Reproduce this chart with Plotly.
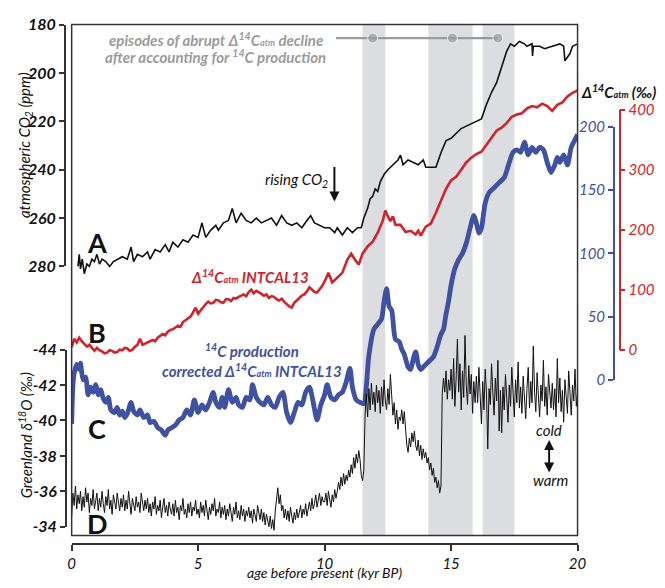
import plotly.graph_objects as go

# ---------------- data ----------------
co2_age = [0.25, 0.3, 0.35, 0.42, 0.5, 0.6, 0.7, 0.8, 0.9, 1.0, 1.1, 1.2, 1.35, 1.5, 1.65, 1.8, 2.0, 2.2, 2.35, 2.45,
           2.6, 2.8, 3.0, 3.1, 3.3, 3.5, 3.7, 3.85, 4.0, 4.2, 4.4, 4.6, 4.8, 5.0, 5.15, 5.3, 5.5, 5.7, 5.8, 6.0,
           6.2, 6.35, 6.5, 6.7, 6.9, 7.1, 7.3, 7.5, 7.7, 7.9, 8.1, 8.3, 8.5, 8.7, 8.9, 9.1, 9.3, 9.45, 9.6, 9.8,
           10.0, 10.2, 10.4, 10.5, 10.7, 10.9, 11.1, 11.3, 11.45, 11.55, 11.7, 11.8, 11.9, 12.0, 12.1, 12.2, 12.35, 12.5, 12.7, 12.9,
           13.0, 13.1, 13.3, 13.5, 13.7, 13.9, 14.0, 14.2, 14.4, 14.6, 14.8, 15.0, 15.2, 15.4, 15.6, 15.8, 16.0, 16.2, 16.4, 16.6,
           16.8, 17.0, 17.2, 17.35, 17.5, 17.7, 17.9, 18.0, 18.2, 18.22, 18.25, 18.5, 18.7, 19.0, 19.3, 19.45, 19.5, 19.7, 19.8, 20.0]
co2_ppm = [280, 275, 281, 277, 283, 279, 280, 277, 278, 275, 279, 277, 278, 280, 278, 277, 276, 277, 272, 278,
           275, 276, 274, 277, 273, 274, 271, 274, 270, 272, 269, 270, 267, 268, 262, 268, 265, 263, 265, 262,
           261, 256, 262, 258, 261, 262, 260, 262, 261, 260, 263, 259, 262, 263, 262, 264, 261, 259, 262, 263,
           264, 264, 266, 264, 267, 264, 266, 264, 264, 260, 256, 252, 251, 248, 249, 245, 242, 240, 238, 236,
           234, 238, 236, 237, 238, 236, 239, 239, 239, 233, 228, 227, 225, 223, 222, 221, 220, 219, 213, 208,
           204, 197, 191, 188, 189, 187, 188, 189, 188, 193, 189, 189, 190, 189, 188, 189, 195, 192, 189, 188]

d14c_age = [0.0, 0.1, 0.2, 0.3, 0.4, 0.5, 0.6, 0.7, 0.8, 0.9, 1.0, 1.1, 1.2, 1.3, 1.4, 1.5, 1.6, 1.7, 1.8, 1.9,
            2.0, 2.1, 2.2, 2.3, 2.4, 2.5, 2.6, 2.7, 2.8, 2.9, 3.0, 3.1, 3.2, 3.3, 3.4, 3.5, 3.6, 3.7, 3.8, 3.9,
            4.0, 4.1, 4.2, 4.3, 4.4, 4.5, 4.6, 4.7, 4.8, 4.9, 5.0, 5.1, 5.2, 5.3, 5.4, 5.5, 5.6, 5.7, 5.8, 5.9,
            6.0, 6.1, 6.2, 6.3, 6.4, 6.5, 6.6, 6.7, 6.8, 6.9, 7.0, 7.1, 7.2, 7.3, 7.4, 7.5, 7.6, 7.7, 7.8, 7.9,
            8.0, 8.1, 8.2, 8.3, 8.4, 8.5, 8.6, 8.7, 8.8, 8.9, 9.0, 9.1, 9.2, 9.3, 9.4, 9.5, 9.6, 9.7, 9.8, 9.9,
            10.05, 10.15, 10.3, 10.5, 10.7, 10.9, 11.05, 11.2, 11.35, 11.5, 11.7, 11.9, 12.1, 12.3, 12.4, 12.5, 12.6, 12.7, 12.8,
            13.0, 13.2, 13.4, 13.6, 13.7, 13.8, 14.0, 14.2, 14.4, 14.6, 14.8, 15.0, 15.2, 15.4, 15.6, 15.8, 16.0, 16.2, 16.4, 16.6,
            16.8, 17.0, 17.2, 17.4, 17.6, 17.8, 18.0, 18.2, 18.4, 18.6, 18.8, 19.0, 19.2, 19.4, 19.6, 19.8, 20.0]
d14c = [4, 18, 12, 20, 14, 10, 5, 8, 2, -2, 3, -1, -3, -6, -5, -1, -2, -5, -4, 0,
        -1, 3, 2, -2, 0, 5, 8, 18, 8, 10, 12, 15, 16, 14, 20, 23, 26, 24, 30, 33,
        34, 37, 40, 38, 46, 49, 52, 55, 62, 70, 60, 66, 72, 76, 80, 77, 78, 83, 82, 79,
        78, 84, 84, 81, 86, 85, 88, 90, 92, 89, 96, 100, 94, 98, 96, 93, 90, 92, 86, 89,
        88, 84, 82, 85, 80, 76, 72, 70, 78, 82, 86, 90, 92, 97, 104, 100, 96, 95, 100, 106,
        118, 128, 112, 120, 128, 150, 160, 150, 142, 160, 172, 180, 195, 215, 232, 222, 214, 222, 208,
        208, 196, 198, 192, 198, 190, 205, 210, 228, 248, 268, 282, 288, 300, 312, 320, 326, 330, 342, 355,
        365, 370, 378, 388, 392, 394, 402, 406, 404, 410, 406, 398, 408, 412, 422, 428, 432]

d14c_corr_age = [0.0, 0.05, 0.1, 0.2, 0.3, 0.35, 0.45, 0.55, 0.65, 0.75, 0.85, 0.95, 1.05, 1.15, 1.25, 1.35, 1.45, 1.55, 1.7, 1.8,
                 1.9, 2.0, 2.1, 2.2, 2.35, 2.45, 2.6, 2.7, 2.85, 3.0, 3.1, 3.25, 3.4, 3.55, 3.7, 3.8, 3.95, 4.1, 4.25, 4.4,
                 4.55, 4.7, 4.85, 5.0, 5.15, 5.3, 5.45, 5.6, 5.7, 5.85, 5.95, 6.05, 6.2, 6.35, 6.5, 6.6, 6.75, 6.9, 7.05, 7.15,
                 7.3, 7.45, 7.6, 7.75, 7.9, 8.05, 8.2, 8.35, 8.5, 8.65, 8.8, 8.95, 9.1, 9.25, 9.4, 9.55, 9.7, 9.85, 10.0, 10.1,
                 10.25, 10.4, 10.55, 10.7, 10.85, 11.0, 11.1, 11.25, 11.4, 11.55, 11.65, 11.75, 11.95, 12.1, 12.25, 12.35, 12.45, 12.55, 12.65, 12.8,
                 12.95, 13.05, 13.15, 13.3, 13.4, 13.5, 13.6, 13.7, 13.8, 13.9, 14.1, 14.3, 14.45, 14.6, 14.7, 14.8, 14.9, 15.0, 15.15, 15.3,
                 15.45, 15.6, 15.75, 15.9, 16.0, 16.1, 16.2, 16.35, 16.5, 16.7, 16.9, 17.1, 17.3, 17.45, 17.6, 17.75, 17.9, 18.05, 18.2, 18.35,
                 18.5, 18.65, 18.8, 18.95, 19.1, 19.2, 19.3, 19.45, 19.6, 19.75, 19.9, 20.0]
d14c_corr = [-35, -5, 5, 12, 8, 13, 0, 2, -12, -6, -10, -4, -12, -8, -15, -18, -14, -24, -26, -22,
             -28, -25, -30, -27, -18, -25, -28, -24, -30, -28, -34, -33, -38, -40, -44, -40, -38, -36, -32, -30,
             -24, -28, -16, -26, -20, -24, -18, -10, -18, -22, -14, -22, -8, -18, -14, -20, -22, -14, -16, -4,
             -14, -18, -20, -14, -20, -22, -14, -10, -26, -34, -26, -18, -20, -10, -6, -18, -32, -20, -12, -4,
             -14, -16, -12, -10, -2, 9, -6, -16, -18, -19, -5, 19, 40, 44, 48, 62, 72, 58, 55, 32,
             30, 24, 20, 10, 8, 16, 22, 12, 8, 10, 14, 18, 26, 36, 40, 52, 62, 75, 88, 95,
             100, 108, 120, 130, 124, 116, 120, 140, 148, 152, 156, 160, 172, 180, 182, 180, 188, 178, 184, 180,
             184, 182, 172, 164, 170, 176, 172, 178, 170, 184, 190, 194]

d18o_step = 0.05
d18o = [
    -34.6, -35.9, -35.2, -36.3, -35.0, -35.8, -35.3, -36.0, -34.9, -35.7, -35.1, -36.2, -35.4, -35.9, -34.8, -35.6, -35.2, -36.1, -35.0, -35.5,
    -35.9, -34.9, -35.6, -35.1, -36.0, -35.3, -34.8, -35.7, -35.2, -36.1, -35.0, -35.5, -34.7, -35.8, -35.3, -35.0, -35.9, -35.2, -34.9, -35.6,
    -35.1, -35.8, -34.9, -35.5, -35.0, -36.0, -35.2, -34.7, -35.6, -35.3, -34.9, -35.7, -35.1, -35.4, -34.8, -35.9, -35.2, -34.9, -35.5, -35.0,
    -35.6, -34.8, -35.3, -34.6, -35.4, -35.0, -35.7, -34.7, -35.2, -34.9, -35.5, -34.5, -35.1, -35.6, -34.8, -35.2, -34.6, -35.4, -35.0, -34.7,
    -35.3, -34.6, -35.5, -34.8, -35.1, -34.4, -35.2, -34.9, -35.6, -34.7, -35.0, -34.5, -35.3, -34.8, -35.4, -34.6, -35.1, -34.9, -35.5, -34.7,
    -35.0, -34.5, -35.4, -34.8, -35.2, -34.6, -35.5, -34.9, -34.4, -35.1, -34.7, -35.3, -34.9, -35.6, -34.6, -35.0, -34.8, -35.4, -34.5, -35.1,
    -34.7, -35.2, -34.4, -35.0, -34.6, -35.3, -34.8, -34.3, -35.1, -34.7, -35.4, -34.5, -34.9, -34.4, -35.2, -34.6, -35.0, -34.3, -34.9, -34.6,
    -35.1, -34.5, -34.9, -34.2, -35.0, -34.6, -34.3, -35.2, -34.7, -34.4, -35.0, -34.3, -34.8, -34.1, -34.7, -34.4, -34.0, -34.6, -33.9, -34.4,
    -33.8, -34.9, -35.6, -36.2, -35.3, -35.8, -34.9, -35.2, -34.5, -35.0, -34.4, -34.9, -34.3, -35.1, -34.6, -34.2, -34.8, -34.4, -35.0, -34.5,
    -34.8, -35.2, -34.5, -35.0, -34.7, -35.3, -34.6, -35.1, -35.4, -34.9, -35.6, -35.0, -35.3, -35.8, -35.1, -35.5, -35.9, -35.2, -35.7, -35.4,
    -35.4, -35.9, -35.2, -36.0, -35.5, -35.1, -35.8, -35.4, -36.1, -35.6, -36.0, -36.5, -36.1, -36.8, -36.3, -37.0, -36.4, -36.9, -36.6, -37.2,
    -36.8, -37.5, -37.0, -37.9, -37.3, -38.1, -37.6, -38.3, -37.8, -36.9, -36.6, -37.2, -40.3, -41.5, -40.2, -41.8, -40.6, -42.1, -40.9, -41.6,
    -40.5, -42.0, -41.0, -41.7, -40.4, -41.9, -40.8, -42.3, -41.1, -40.6, -41.8, -40.9, -42.6, -41.4, -40.3, -41.0, -39.8, -40.6, -39.5, -40.2,
    -40.0, -40.6, -39.8, -40.5, -39.2, -38.6, -38.2, -39.0, -38.5, -39.3, -38.8, -39.4, -38.6, -38.3, -38.9, -38.0, -38.6, -37.8, -38.4, -37.9,
    -38.2, -37.6, -37.9, -37.2, -37.6, -36.9, -37.3, -36.5, -36.8, -36.2, -36.6, -35.9, -36.3, -41.5, -42.4, -41.6, -42.8, -41.2, -42.3, -41.7,
    -42.9, -41.2, -43.5, -40.8, -42.4, -44.6, -41.6, -43.2, -40.6, -42.8, -41.3, -44.8, -42.0, -40.9, -43.1, -41.5, -42.6, -40.4, -42.2, -41.0,
    -42.5, -41.0, -43.0, -41.4, -39.8, -42.2, -40.6, -42.9, -41.5, -38.4, -41.8, -40.9, -43.2, -41.6, -40.3, -42.4, -41.1, -43.4, -39.4, -41.7,
    -39.3, -41.9, -40.6, -42.6, -41.2, -39.9, -42.0, -40.8, -43.0, -41.4, -40.2, -42.3, -41.0, -43.3, -40.7, -41.9, -40.4, -42.5, -41.3, -40.1,
    -41.8, -43.0, -40.7, -42.2, -41.0, -44.2, -41.6, -40.5, -42.7, -41.3, -40.2, -42.0, -41.1, -43.4, -40.8, -41.9, -40.3, -42.6, -41.4, -40.7,
    -42.1, -40.6, -41.8, -40.2, -43.5, -41.0, -42.4, -40.5, -41.7, -39.9, -42.3, -41.2, -40.4, -42.8, -41.5, -40.3, -42.0, -41.1, -42.9, -40.8,
    -41.6,
]
d18o_age = [round(i * d18o_step, 2) for i in range(len(d18o))]

episode_start = [11.5, 14.1, 16.25]
episode_end = [12.4, 15.85, 17.5]
episode_mark = [11.9, 15.05, 16.85]

co2_ticks = [180, 200, 220, 240, 260, 280]
d18o_ticks = [-44, -42, -40, -38, -36, -34]
d18o_ticktext = ["-44", "-42", "-40", "-38", "-36", "-34"]
corr_ticks = [0, 50, 100, 150, 200]
d14c_ticks = [0, 100, 200, 300, 400]
age_ticks = [0, 5, 10, 15, 20]

# ---------------- layout helpers ----------------
W, H = 665, 588
def fx(p):
    return p / W
def fy(p):
    return 1 - p / H

FONT = "Lato"
BLACK = "#111111"
RED = "#d2232a"
BLUE = "#3f51a3"
GREY = "#9b9b9b"
BAR = "#dcdde0"

fig = go.Figure()

# data traces
fig.add_trace(go.Scatter(x=d18o_age, y=d18o, yaxis="y4", mode="lines",
                         line=dict(color=BLACK, width=1), hoverinfo="skip"))
fig.add_trace(go.Scatter(x=d14c_corr_age, y=d14c_corr, yaxis="y3", mode="lines",
                         line=dict(color=BLUE, width=4.8, shape="spline", smoothing=0.7), hoverinfo="skip"))
fig.add_trace(go.Scatter(x=d14c_age, y=d14c, yaxis="y2", mode="lines",
                         line=dict(color=RED, width=2.6), hoverinfo="skip"))
fig.add_trace(go.Scatter(x=co2_age, y=co2_ppm, yaxis="y", mode="lines",
                         line=dict(color=BLACK, width=1.6), hoverinfo="skip"))

# episode marker line + dots (near top)
mark_y = 180 + (29 - 15) / 2.5
fig.add_trace(go.Scatter(x=[10.45] + episode_mark, y=[mark_y] * (len(episode_mark) + 1), yaxis="y",
                         mode="lines+markers", line=dict(color=GREY, width=2.2),
                         marker=dict(color=GREY, size=[0] + [10] * len(episode_mark)),
                         hoverinfo="skip"))

# dummy traces for display axes
for ax in ["y5", "y6", "y7", "y8"]:
    fig.add_trace(go.Scatter(x=[None], y=[None], yaxis=ax, mode="markers", hoverinfo="skip"))

full_dom = [fy(551), fy(15)]
hidden = dict(visible=False, showgrid=False, zeroline=False, autorange=False)
tickbase = dict(ticks="outside", ticklen=5, tickwidth=1.5, showline=True, linewidth=1.5,
                showgrid=False, zeroline=False, autorange=False, anchor="free")

fig.update_layout(
    width=W, height=H, margin=dict(l=0, r=0, t=0, b=0),
    paper_bgcolor="white", plot_bgcolor="rgba(0,0,0,0)", showlegend=False,
    xaxis=dict(domain=[fx(69), fx(585)], range=[0, 20], anchor="y", tickvals=age_ticks,
               ticks="outside", ticklen=6, tickwidth=1.5, showline=True, linewidth=1.5,
               linecolor="#333", tickcolor="#333", showgrid=False, zeroline=False,
               tickfont=dict(family=FONT, size=15, style="italic", color=BLACK)),
    yaxis=dict(domain=full_dom, range=[394.4, 180], **hidden),
    yaxis2=dict(overlaying="y", range=[-322.6, 541.9], **hidden),
    yaxis3=dict(overlaying="y", range=[-129.5, 281.2], **hidden),
    yaxis4=dict(overlaying="y", range=[-33.07, -62.36], **hidden),
    yaxis5=dict(domain=[fy(265), fy(15)], range=[280, 180], position=fx(62), side="left",
                tickvals=co2_ticks, linecolor="#333", tickcolor="#333",
                tickfont=dict(family=FONT, size=16, style="italic", weight="bold", color=BLACK), **tickbase),
    yaxis6=dict(domain=[fy(534), fy(351)], range=[-34, -44], position=fx(63), side="left",
                tickvals=d18o_ticks, ticktext=d18o_ticktext, linecolor="#333", tickcolor="#333",
                tickfont=dict(family=FONT, size=16, style="italic", weight="bold", color=BLACK), **tickbase),
    yaxis7=dict(domain=[fy(382), fy(121)], range=[0, 200], position=fx(622), side="left",
                tickvals=corr_ticks, linecolor=BLUE, tickcolor=BLUE,
                tickfont=dict(family=FONT, size=15, style="italic", color=BLUE), **tickbase),
    yaxis8=dict(domain=[fy(351), fy(103)], range=[0, 400], position=fx(628), side="right",
                tickvals=d14c_ticks, linecolor=RED, tickcolor=RED,
                tickfont=dict(family=FONT, size=15, style="italic", color=RED), **tickbase),
)

# episode bars
shapes = []
for s, e in zip(episode_start, episode_end):
    shapes.append(dict(type="rect", xref="x", yref="paper", x0=s, x1=e, y0=fy(543), y1=fy(15),
                       fillcolor=BAR, line=dict(width=0), layer="below"))
# frame
shapes.append(dict(type="rect", xref="paper", yref="paper", x0=fx(69), x1=fx(585), y0=fy(543), y1=fy(15),
                   line=dict(color="#333", width=1.5), fillcolor="rgba(0,0,0,0)", layer="above"))
fig.update_layout(shapes=shapes)

def ann(text, x, y, size=15, color=BLACK, bold=False, italic=True, xanchor="center", angle=0):
    fig.add_annotation(text=text, x=fx(x), y=fy(y), xref="paper", yref="paper", showarrow=False,
                       xanchor=xanchor, yanchor="middle", textangle=angle,
                       font=dict(family=FONT, size=size, color=color,
                                 weight="bold" if bold else "normal",
                                 style="italic" if italic else "normal"))

SUB = '<span style="font-size:9px">atm</span>'
ann("atmospheric CO<sub>2</sub> (ppm)", 22, 140, size=15, angle=-90)
ann("Greenland δ<sup>18</sup>O (‰)", 22, 440, size=15, angle=-90)
ann("age before present (kyr BP)", 327, 581, size=14)
ann("Δ<sup>14</sup>C" + SUB + " (‰)", 586, 84, size=15, bold=True, xanchor="left")
ann("episodes of abrupt Δ<sup>14</sup>C" + SUB + " decline", 216, 30, size=15, color=GREY, bold=True)
ann("after accounting for <sup>14</sup>C production", 216, 48, size=15, color=GREY, bold=True)
ann("rising CO<sub>2</sub>", 332, 176, size=15, xanchor="right")
ann("Δ<sup>14</sup>C" + SUB + " INTCAL13", 251, 275, size=15, color=RED, bold=True)
ann("<sup>14</sup>C production", 253, 352, size=15, color=BLUE, bold=True)
ann("corrected Δ<sup>14</sup>C" + SUB + " INTCAL13", 253, 373, size=15, color=BLUE, bold=True)
ann("cold", 556, 434, size=15)
ann("warm", 557, 486, size=15)
for letter, yy in [("A", 240), ("B", 333), ("C", 432), ("D", 531)]:
    ann(letter, 95, yy, size=27, bold=True, italic=False)

# arrows
fig.add_annotation(x=fx(337), y=fy(198), xref="paper", yref="paper", ax=0, ay=-36, text="",
                   showarrow=True, arrowhead=2, arrowsize=1, arrowwidth=2, arrowcolor=BLACK)
fig.add_annotation(x=fx(556), y=fy(478), xref="paper", yref="paper", ax=0, ay=-34, text="",
                   showarrow=True, arrowhead=2, arrowside="end+start", arrowsize=1, arrowwidth=2,
                   arrowcolor=BLACK)

fig.write_html("out.html")
